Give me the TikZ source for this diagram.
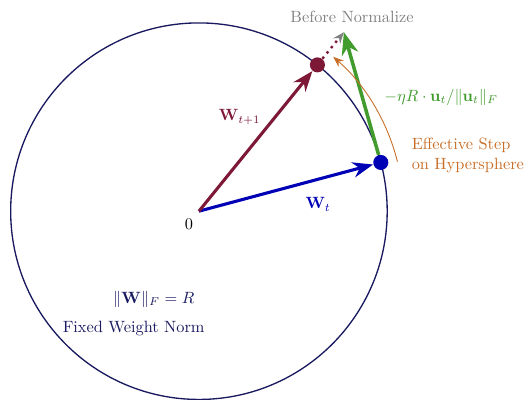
\documentclass[tikz,border=0pt]{standalone}
\usepackage{amsmath}
\usepackage{amssymb}
\usetikzlibrary{calc, arrows.meta}
\definecolor{normblue}{RGB}{25,25,95}
\definecolor{wcur}{RGB}{0,0,180}
\definecolor{wnext}{RGB}{125,25,55}
\definecolor{stepgreen}{RGB}{65,155,45}
\definecolor{effstep}{RGB}{200,110,40}

\begin{document}
\begin{tikzpicture}[>=Stealth, font=\normalsize, vec/.style={->, line width=1.4pt}, tipdot/.style={circle, fill, inner sep=0pt, minimum size=2.4mm}, txt/.style={transform shape, scale=0.74}]
  \useasboundingbox (-3.17,-3.0) rectangle (5.18,3.365);

    % weight sphere
    \coordinate (O) at (0,0);
    \draw[normblue, semithick] (O) circle (3);

    \node[tipdot, wcur] (wt) at (15:3) {};
    \node[tipdot, wnext] (wn) at (51:3) {};
    \coordinate (pre) at (51:3.67);

    \draw[vec, wcur] (O) -- (wt);
    \draw[vec, wnext] (O) -- (wn);
    \draw[wnext, line width=1.1pt, dotted, -{Stealth[gray, length=1.8mm, width=1.4mm]}] (wn) -- (pre);
    \draw[vec, stepgreen, line width=1.6pt] (wt) -- (pre);

    \draw[->, effstep] (14:3.26) arc[start angle=14, end angle=49, radius=3.26];

    \node[txt, gray] (lblpre) at (2.44,3.09) {Before Normalize};
    \node[txt, stepgreen] (lblstep) at (3.86,1.82) {$-\eta R\cdot\mathbf{u}_t/\|\mathbf{u}_t\|_F$};
    \node[txt, effstep, align=left, anchor=west] (lbleff) at (3.3,0.89) {Effective Step\\on Hypersphere};

    \node[txt, wnext] (lblwn) at (0.65,1.5) {$\mathbf{W}_{t+1}$};
    \node[txt, wcur] (lblwt) at (1.9,0.11) {$\mathbf{W}_t$};
    \node[txt] (lblo) at (-0.16,-0.21) {$0$};

    \node[txt, normblue] (lblnorm) at (-0.72,-1.40) {$\|\mathbf{W}\|_F = R$};
    \node[txt, normblue] (lblfix) at (-1.04,-1.87) {Fixed Weight Norm};

  \end{tikzpicture}
\end{document}
